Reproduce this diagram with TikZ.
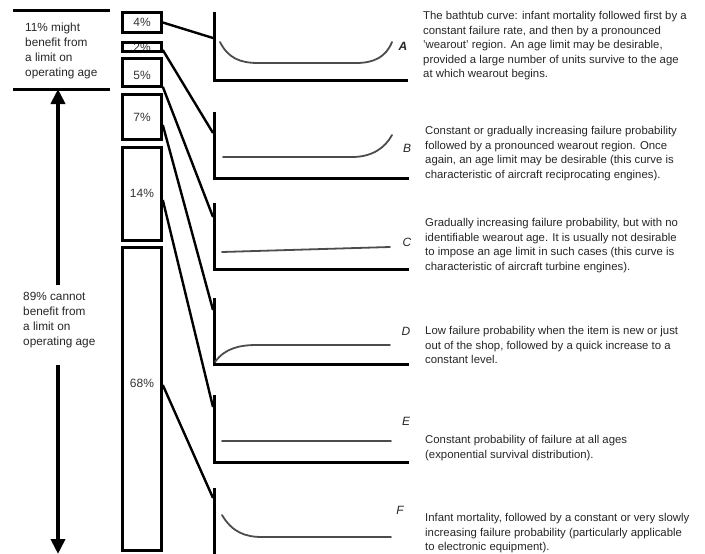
\documentclass[tikz,border=0pt]{standalone}
\usepackage{fontspec}
\setmainfont{Liberation Sans}
\usetikzlibrary{arrows.meta,calc}
\begin{document}
\begin{tikzpicture}[x=1pt,y=-1pt,
  pbox/.style={draw, line width=2.6pt, minimum width=39pt, inner sep=0pt},
  pct/.style={font=\fontsize{12}{13}\selectfont, text=black!80, inner sep=0pt},
  axisline/.style={line width=3pt},
  curve/.style={line width=1.8pt, draw=black!70, line cap=round},
  link/.style={line width=2.4pt},
  desc/.style={anchor=north west, align=left, inner sep=0pt,
    font=\fontsize{11.35}{14.4}\selectfont, text=black!85},
  side/.style={anchor=north west, align=left, inner sep=0pt,
    font=\fontsize{11.8}{15}\selectfont, text=black!85},
  tag/.style={font=\fontsize{12}{12}\selectfont\itshape, inner sep=0pt, text=black!85},
  bigarrow/.style={line width=4pt, -{Triangle[length=15pt,width=14pt]}},
  rule/.style={line width=3pt}
]
\useasboundingbox (0,0) rectangle (705,554);

% ---- left column: the 11% / 89% split ----
\coordinate (r1a) at (13,10);  \coordinate (r1b) at (110,10);
\coordinate (r2a) at (13,89);  \coordinate (r2b) at (110,89);
\draw[rule] (r1a) -- (r1b);
\draw[rule] (r2a) -- (r2b);
\node[side] (may) at (25,22.5) {11\% might\\benefit from\\a limit on\\operating age};
\node[side] (cannot) at (23,292.5) {89\% cannot\\benefit from\\a limit on\\operating age};
\coordinate (upfoot) at (58,285);  \coordinate (uptip) at (58,89);
\coordinate (dnfoot) at (58,365);  \coordinate (dntip) at (58,554);
\draw[bigarrow] (upfoot) -- (uptip);
\draw[bigarrow] (dnfoot) -- (dntip);

% ---- percentage column ----
\node[pct] (t4)  at (142,22.5) {4\%};
\node[pct] (t2)  at (142,47.5) {2\%};
\node[pct] (t5)  at (142,75)   {5\%};
\node[pct] (t7)  at (142,117)  {7\%};
\node[pct] (t14) at (142,193)  {14\%};
\node[pct] (t68) at (142,383)  {68\%};
\node[pbox, minimum height=20pt]  (b4)  at (142,22.5) {};
\node[pbox, minimum height=9pt]   (b2)  at (142,47)   {};
\node[pbox, minimum height=28pt]  (b5)  at (142,72.5) {};
\node[pbox, minimum height=45pt]  (b7)  at (142,117)  {};
\node[pbox, minimum height=93pt]  (b14) at (142,194)  {};
\node[pbox, minimum height=303pt] (b68) at (142,399)  {};

% ---- the six failure-pattern plots ----
% pattern A
\coordinate (Atop) at (214,12);  \coordinate (Ao) at (214,80);  \coordinate (Aend) at (408,80);
\coordinate (Ain) at (213,38);
\draw[axisline] (Atop) -- (Ao) -- (Aend);
\draw[curve] (220,42) .. controls (228,58) and (240,63) .. (258,63) -- (356,63)
  .. controls (374,63) and (386,57) .. (392,42);
\node[tag, font=\fontsize{12}{12}\selectfont\bfseries\itshape] (tA) at (403,46) {A};
% pattern B
\coordinate (Btop) at (214,112); \coordinate (Bo) at (214,178); \coordinate (Bend) at (409,178);
\coordinate (Bin) at (213,133);
\draw[axisline] (Btop) -- (Bo) -- (Bend);
\draw[curve] (223,157) -- (352,157) .. controls (372,157) and (385,148) .. (392,135);
\node[tag] (tB) at (407,148) {B};
% pattern C
\coordinate (Ctop) at (214,203); \coordinate (Co) at (214,269); \coordinate (Cend) at (409,269);
\coordinate (Cin) at (213,217);
\draw[axisline] (Ctop) -- (Co) -- (Cend);
\draw[curve] (222,252) -- (390,247);
\node[tag] (tC) at (407,242) {C};
% pattern D
\coordinate (Dtop) at (214,298); \coordinate (Do) at (214,364); \coordinate (Dend) at (409,364);
\coordinate (Din) at (213,310);
\draw[axisline] (Dtop) -- (Do) -- (Dend);
\draw[curve] (215,362) .. controls (225,348) and (240,345) .. (257,345) -- (390,345);
\node[tag] (tD) at (406,331) {D};
% pattern E
\coordinate (Etop) at (214,395); \coordinate (Eo) at (214,462); \coordinate (Eend) at (409,462);
\coordinate (Ein) at (213,407);
\draw[axisline] (Etop) -- (Eo) -- (Eend);
\draw[curve] (222,441) -- (391,441);
\node[tag] (tE) at (406,421) {E};
% pattern F
\coordinate (Ftop) at (214,488); \coordinate (Fo) at (214,555); \coordinate (Fend) at (409,555);
\coordinate (Fin) at (213,498);
\draw[axisline] (Ftop) -- (Fo) -- (Fend);
\draw[curve] (222,515) .. controls (232,532) and (245,537) .. (262,537) -- (391,537);
\node[tag] (tF) at (400,510) {F};

% ---- links from each share to its pattern ----
\draw[link] (b4.east) -- (Ain);
\draw[link] ([yshift=-3pt]b2.east) -- (Bin);
\draw[link] ([yshift=1pt]b5.south east) -- (Cin);
\draw[link] ([yshift=-8pt]b7.east) -- (Din);
\draw[link] ([yshift=-6pt]b14.east) -- (Ein);
\draw[link] ([yshift=14pt]b68.east) -- (Fin);

% ---- descriptions ----
\node[desc] (dA) at (423,11.5) {The bathtub curve: infant mortality followed first by a\\
  constant failure rate, and then by a pronounced\\
  'wearout' region. An age limit may be desirable,\\
  provided a large number of units survive to the age\\
  at which wearout begins.};
\node[desc] (dB) at (425,126.5) {Constant or gradually increasing failure probability\\
  followed by a pronounced wearout region. Once\\
  again, an age limit may be desirable (this curve is\\
  characteristic of aircraft reciprocating engines).};
\node[desc] (dC) at (425,218.5) {Gradually increasing failure probability, but with no\\
  identifiable wearout age. It is usually not desirable\\
  to impose an age limit in such cases (this curve is\\
  characteristic of aircraft turbine engines).};
\node[desc] (dD) at (425,326.5) {Low failure probability when the item is new or just\\
  out of the shop, followed by a quick increase to a\\
  constant level.};
\node[desc] (dE) at (425,435.5) {Constant probability of failure at all ages\\
  (exponential survival distribution).};
\node[desc] (dF) at (425,513.5) {Infant mortality, followed by a constant or very slowly\\
  increasing failure probability (particularly applicable\\
  to electronic equipment).};
\end{tikzpicture}
\end{document}
